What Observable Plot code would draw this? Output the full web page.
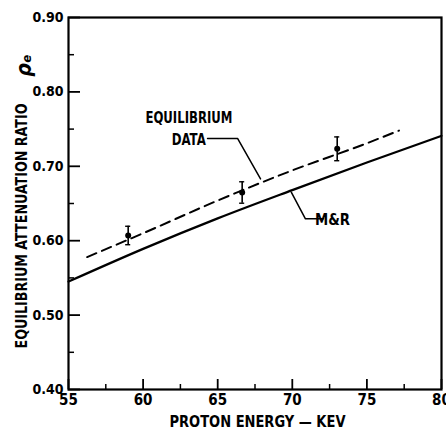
<!DOCTYPE html>
<html>
<head>
<meta charset="utf-8">
<script src="https://cdn.jsdelivr.net/npm/d3@7"></script>
<script src="https://cdn.jsdelivr.net/npm/@observablehq/plot@0.6"></script>
<style>
  html, body { margin: 0; padding: 0; background: #fff; }
  #chart svg, #chart svg text { font-family: "DejaVu Sans", sans-serif; font-stretch: condensed; font-weight: bold; }
</style>
</head>
<body>
<div id="chart"></div>
<script>
// ---- data ----
const energyTicks = [55, 60, 65, 70, 75, 80];
const energyMinor = [57.5, 62.5, 67.5, 72.5, 77.5];
const ratioTicks = [0.40, 0.50, 0.60, 0.70, 0.80, 0.90];
const ratioMinor = [0.45, 0.55, 0.65, 0.75, 0.85];

// M&R theory curve (solid)
const mrEnergy = [55, 60, 65, 70, 75, 80];
const mrRatio  = [0.545, 0.589, 0.630, 0.668, 0.705, 0.741];

// Equilibrium data curve (dashed)
const eqEnergy = [56.25, 60, 65, 70, 75, 77.15];
const eqRatio  = [0.578, 0.610, 0.654, 0.6945, 0.731, 0.748];

// Measured points with error bars
const ptEnergy = [59.0, 66.64, 73.01];
const ptRatio  = [0.607, 0.6648, 0.7235];
const ptError  = [0.0124, 0.0144, 0.016];

// Annotation labels and leaders
const annoText   = ["EQUILIBRIUM", "DATA", "M&R"];
const annoEnergy = [63.07, 63.06, 72.69];
const annoRatio  = [0.765, 0.736, 0.6285];
const annoAnchor = ["middle", "middle", "start"];
const dataLeaderE = [64.32, 66.33, 67.87];
const dataLeaderR = [0.7374, 0.7374, 0.683];
const mrLeaderE = [72.09, 70.88, 69.93];
const mrLeaderR = [0.6294, 0.6294, 0.6652];

const xTitle = "PROTON ENERGY \u2014 KEV";
const yTitle = "EQUILIBRIUM ATTENUATION RATIO";
const ySymbol = "\u03C1\u2091";

// ---- tables ----
const mr = mrEnergy.map((e, i) => ({e, r: mrRatio[i]}));
const eq = eqEnergy.map((e, i) => ({e, r: eqRatio[i]}));
const pts = ptEnergy.map((e, i) => ({e, r: ptRatio[i], err: ptError[i]}));
const anno = annoText.map((t, i) => ({t, e: annoEnergy[i], r: annoRatio[i], a: annoAnchor[i]}));
const dataLeader = dataLeaderE.map((e, i) => ({e, r: dataLeaderR[i]}));
const mrLeader = mrLeaderE.map((e, i) => ({e, r: mrLeaderR[i]}));

const W = 446, H = 430;
const mL = 68, mR = 5, mT = 17, mB = 41;
const pw = W - mL - mR, ph = H - mT - mB;

const chart = Plot.plot({
  width: W,
  height: H,
  marginLeft: mL,
  marginRight: mR,
  marginTop: mT,
  marginBottom: mB,
  style: {background: "#fff", color: "#000", fontSize: "14px"},
  x: {domain: [55, 80], axis: null},
  y: {domain: [0.40, 0.90], axis: null},
  marks: [
    // inward ticks
    Plot.tickY(ratioTicks, {y: d => d, insetRight: pw - 12, stroke: "#000", strokeWidth: 1.8}),
    Plot.tickY(ratioMinor, {y: d => d, insetRight: pw - 6, stroke: "#000", strokeWidth: 1.5}),
    Plot.tickX(energyTicks, {x: d => d, insetTop: ph - 10, stroke: "#000", strokeWidth: 1.8}),
    Plot.tickX(energyMinor, {x: d => d, insetTop: ph - 5, stroke: "#000", strokeWidth: 1.5}),
    // tick labels
    Plot.axisY(ratioTicks, {label: null, tickSize: 0, tickPadding: 5, tickFormat: d3.format(".2f"), fontSize: 14, fontWeight: "bold"}),
    Plot.axisX(energyTicks, {label: null, tickSize: 0, tickPadding: 5, tickFormat: d => d, fontSize: 15, fontWeight: "bold"}),
    // frame
    Plot.frame({stroke: "#000", strokeWidth: 2.2}),
    // curves
    Plot.line(mr, {x: "e", y: "r", curve: "monotone-x", stroke: "#000", strokeWidth: 2.2}),
    Plot.line(eq, {x: "e", y: "r", curve: "monotone-x", stroke: "#000", strokeWidth: 2, strokeDasharray: "10,6"}),
    // error bars
    Plot.ruleX(pts, {x: "e", y1: d => d.r - d.err, y2: d => d.r + d.err, stroke: "#000", strokeWidth: 1.6}),
    Plot.ruleY(pts, {y: d => d.r + d.err, x1: d => d.e - 0.17, x2: d => d.e + 0.17, stroke: "#000", strokeWidth: 1.4}),
    Plot.ruleY(pts, {y: d => d.r - d.err, x1: d => d.e - 0.17, x2: d => d.e + 0.17, stroke: "#000", strokeWidth: 1.4}),
    Plot.dot(pts, {x: "e", y: "r", r: 3, fill: "#000"}),
    // annotations
    Plot.line(dataLeader, {x: "e", y: "r", stroke: "#000", strokeWidth: 1.5}),
    Plot.line(mrLeader, {x: "e", y: "r", stroke: "#000", strokeWidth: 1.5}),
    Plot.text(anno, {x: "e", y: "r", text: "t", textAnchor: "a", fontSize: 16, fontWeight: "bold", fill: "#000"}),
    // axis titles
    Plot.text([xTitle], {frameAnchor: "bottom", textAnchor: "middle", lineAnchor: "middle", dx: 2.5, dy: 33, fontSize: 15.5, fontWeight: "bold", fill: "#000"}),
    Plot.text([yTitle], {frameAnchor: "left", textAnchor: "middle", lineAnchor: "middle", dx: -47, dy: 22.5, rotate: -90, fontSize: 16.5, fontWeight: "bold", fill: "#000"}),
    Plot.text([ySymbol], {frameAnchor: "left", textAnchor: "middle", lineAnchor: "middle", dx: -44, dy: -138, rotate: -90, fontSize: 21, fontStyle: "italic", fontWeight: "bold", fill: "#000"})
  ]
});

// fit lettered labels to the widths they occupy in the reference
const fitWidths = new Map([[yTitle, 245], [xTitle, 176], ["EQUILIBRIUM", 87], ["DATA", 34], ["M&R", 35]]);
d3.select(chart).selectAll("text").each(function() {
  const w = fitWidths.get(this.textContent);
  if (w) { this.setAttribute("textLength", w); this.setAttribute("lengthAdjust", "spacingAndGlyphs"); }
});
document.getElementById("chart").appendChild(chart);
</script>
</body>
</html>
